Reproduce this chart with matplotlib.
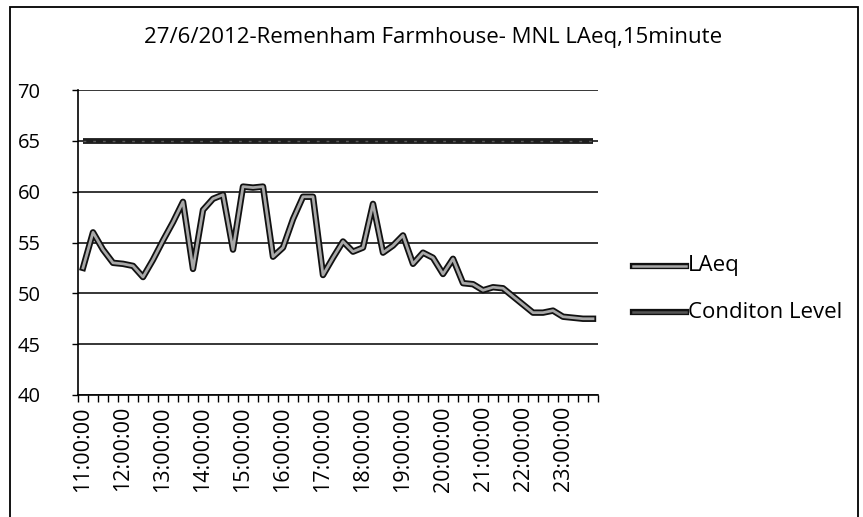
import matplotlib
matplotlib.use("Agg")
import matplotlib.pyplot as plt
from matplotlib.lines import Line2D
from matplotlib.patches import Rectangle

title = "27/6/2012-Remenham Farmhouse- MNL LAeq,15minute"
times = [f"{h:02d}:{m:02d}:00" for h in range(11, 24) for m in (0, 15, 30, 45)]
laeq = [52.5, 56.0, 54.3, 53.0, 52.9, 52.7, 51.6, 53.3, 55.2, 57.0,
        59.0, 52.4, 58.2, 59.3, 59.7, 54.3, 60.5, 60.4, 60.5, 53.6,
        54.5, 57.3, 59.5, 59.5, 51.8, 53.5, 55.1, 54.1, 54.5, 58.8,
        54.0, 54.7, 55.7, 52.9, 54.0, 53.5, 51.9, 53.4, 51.0, 50.9,
        50.3, 50.6, 50.5, 49.7, 48.9, 48.1, 48.1, 48.3, 47.7, 47.6,
        47.5, 47.5]
condition = [65.0] * len(laeq)
series_names = ["LAeq", "Conditon Level"]
yticks = [40, 45, 50, 55, 60, 65, 70]

font = ["Open Sans", "DejaVu Sans"]
plt.rcParams["font.family"] = font

fig = plt.figure(figsize=(8.63, 5.17), dpi=100)
W, H = 863, 517
ax = fig.add_axes([78 / W, 1 - 395 / H, (598 - 78) / W, (395 - 90) / H])

x = list(range(len(laeq)))
ax.plot(x, condition, color="#1e1e1e", lw=4.2, solid_capstyle="butt", zorder=3)
ax.plot(x, condition, color="#5a5a5a", lw=1.0, ls=(0, (2, 5)), zorder=3.1)
ax.plot(x, laeq, color="#111111", lw=4.6, solid_joinstyle="round", zorder=4)
ax.plot(x, laeq, color="#a8a8a8", lw=2.0, solid_joinstyle="round", zorder=5)

ax.set_xlim(-0.5, len(laeq) - 0.5)
ax.set_ylim(40, 70)
ax.set_yticks(yticks)
ax.set_yticklabels([str(v) for v in yticks], fontsize=14.5)
ax.yaxis.grid(True, color="black", lw=1.1)
ax.set_axisbelow(True)
ax.tick_params(axis="y", length=4, width=1, pad=23)

major = list(range(0, len(laeq), 4))
ax.set_xticks(major)
ax.set_xticklabels([times[i] for i in major], rotation=90, fontsize=15.5)
ax.set_xticks([i - 0.5 for i in range(len(laeq) + 1)], minor=True)
ax.tick_params(axis="x", which="major", length=0, pad=8)
ax.tick_params(axis="x", which="minor", length=5, width=1)

for s in ["top", "right"]:
    ax.spines[s].set_visible(False)
ax.spines["left"].set_linewidth(1.2)
ax.spines["bottom"].set_linewidth(1.2)

fig.text(433 / W, 1 - 38 / H, title, ha="center", va="center", fontsize=16)

# legend
lx0, lx1 = 633 / W, 686 / W
for yy, name, dark in [(266, series_names[0], True), (312, series_names[1], False)]:
    yf = 1 - yy / H
    fig.add_artist(Line2D([lx0, lx1], [yf, yf], color="#111111", lw=4.5))
    fig.add_artist(Line2D([lx0, lx1], [yf, yf], color="#a8a8a8" if dark else "#555555", lw=1.8))
    fig.text(lx1 + 2 / W, yf, name, ha="left", va="center", fontsize=16)

# chart border
fig.add_artist(Rectangle((10 / W, -0.05), (858 - 10) / W, 1 - 7 / H + 0.05,
                         transform=fig.transFigure, fill=False, ec="black", lw=1.3))

fig.savefig("out.png", dpi=100)
